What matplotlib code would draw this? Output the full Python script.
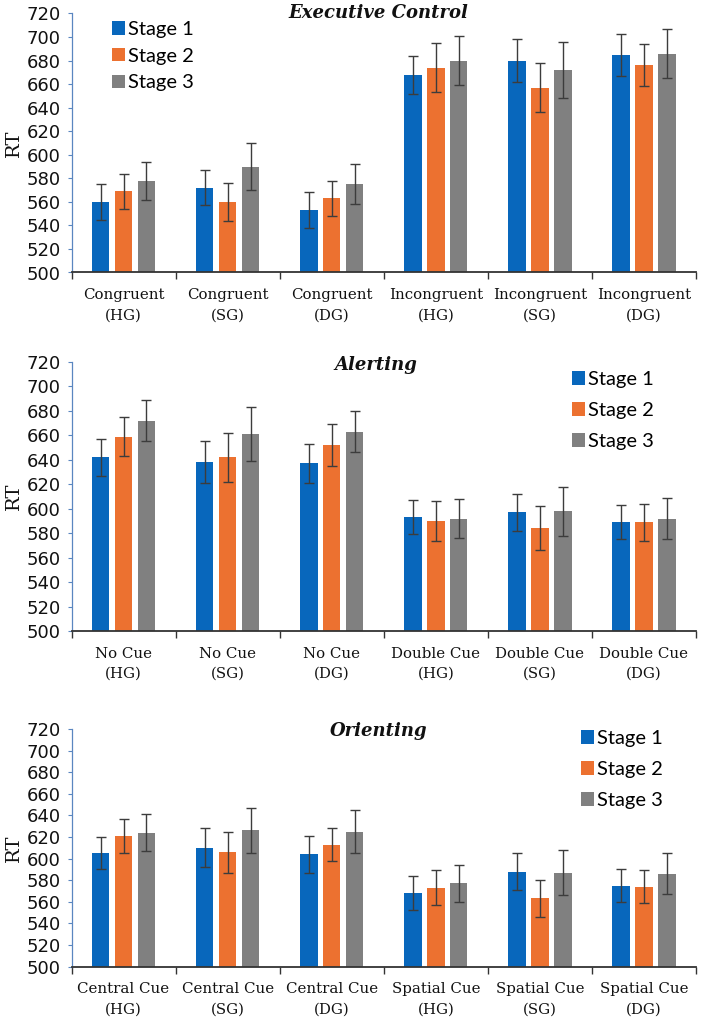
import matplotlib
matplotlib.use("Agg")
import matplotlib.pyplot as plt
import numpy as np

# ---------------- data ----------------
series_names = ["Stage 1", "Stage 2", "Stage 3"]

ec_categories = ["Congruent\n(HG)", "Congruent\n(SG)", "Congruent\n(DG)",
                 "Incongruent\n(HG)", "Incongruent\n(SG)", "Incongruent\n(DG)"]
ec_stage1 = [560, 572, 553, 668, 680, 685]
ec_stage2 = [569, 560, 563, 674, 657, 676]
ec_stage3 = [578, 590, 575, 680, 672, 686]
ec_err1 = [15, 15, 15, 16, 18, 18]
ec_err2 = [15, 16, 15, 21, 21, 18]
ec_err3 = [16, 20, 17, 21, 24, 21]

al_categories = ["No Cue\n(HG)", "No Cue\n(SG)", "No Cue\n(DG)",
                 "Double Cue\n(HG)", "Double Cue\n(SG)", "Double Cue\n(DG)"]
al_stage1 = [642, 638, 637, 593, 597, 589]
al_stage2 = [659, 642, 652, 590, 584, 589]
al_stage3 = [672, 661, 663, 592, 598, 592]
al_err1 = [15, 17, 16, 14, 15, 14]
al_err2 = [16, 20, 17, 16, 18, 15]
al_err3 = [17, 22, 17, 16, 20, 17]

or_categories = ["Central Cue\n(HG)", "Central Cue\n(SG)", "Central Cue\n(DG)",
                 "Spatial Cue\n(HG)", "Spatial Cue\n(SG)", "Spatial Cue\n(DG)"]
or_stage1 = [605, 610, 604, 568, 588, 575]
or_stage2 = [621, 606, 613, 573, 563, 574]
or_stage3 = [624, 626, 625, 577, 587, 586]
or_err1 = [15, 18, 17, 16, 17, 15]
or_err2 = [16, 19, 15, 16, 17, 15]
or_err3 = [17, 21, 20, 17, 21, 19]

titles = ["Executive Control", "Alerting", "Orienting"]
y_label = "RT"
y_ticks = list(range(500, 721, 20))

colors = ["#0867BC", "#EC7130", "#808080"]

# ---------------- layout ----------------
W, H = 705, 1021
fig = plt.figure(figsize=(W / 100, H / 100), dpi=100)

panels = [
    dict(cats=ec_categories, vals=[ec_stage1, ec_stage2, ec_stage3],
         errs=[ec_err1, ec_err2, ec_err3], title=titles[0],
         top=13.5, bottom=272.5, title_xy=(378, 13), leg_xy=(112, 21), lspace=0.48),
    dict(cats=al_categories, vals=[al_stage1, al_stage2, al_stage3],
         errs=[al_err1, al_err2, al_err3], title=titles[1],
         top=362, bottom=631, title_xy=(376, 365), leg_xy=(572, 371), lspace=0.70),
    dict(cats=or_categories, vals=[or_stage1, or_stage2, or_stage3],
         errs=[or_err1, or_err2, or_err3], title=titles[2],
         top=729, bottom=966.5, title_xy=(379, 731), leg_xy=(581, 730), lspace=0.70),
]

left_px, right_px = 71.5, 696
offsets = [-0.22, 0.0, 0.22]
bar_w = 0.168

for p in panels:
    ax = fig.add_axes([left_px / W, 1 - p["bottom"] / H,
                       (right_px - left_px) / W, (p["bottom"] - p["top"]) / H])
    x = np.arange(len(p["cats"]))
    for i in range(3):
        ax.bar(x + offsets[i], p["vals"][i], width=bar_w, color=colors[i],
               label=series_names[i], zorder=2)
        ax.errorbar(x + offsets[i], p["vals"][i], yerr=p["errs"][i], fmt="none",
                    ecolor="#3C3C3C", elinewidth=1.0, capsize=3.4, capthick=1.0,
                    zorder=3)
    ax.set_xlim(-0.5, len(p["cats"]) - 0.5)
    ax.set_ylim(500, 720)
    ax.set_yticks(y_ticks)
    ax.set_yticklabels([str(t) for t in y_ticks], fontfamily="DejaVu Sans",
                       fontsize=13, color="#111111")
    ax.tick_params(axis="y", direction="out", length=3, width=0.8,
                   color="#5A86C0", pad=5)
    ax.set_xticks(np.arange(-0.5, len(p["cats"]) + 0.5, 1.0))
    ax.set_xticklabels([])
    ax.tick_params(axis="x", which="major", direction="out", length=5,
                   width=1.0, color="#333333")
    ax.set_xticks(x, minor=True)
    ax.set_xticklabels(p["cats"], minor=True, fontfamily="DejaVu Serif",
                       fontsize=10.8, color="#111111", linespacing=1.55)
    ax.tick_params(axis="x", which="minor", length=0, pad=11.5)
    for s in ["top", "right"]:
        ax.spines[s].set_visible(False)
    ax.spines["left"].set_color("#5A86C0")
    ax.spines["left"].set_linewidth(0.9)
    ax.spines["bottom"].set_color("#333333")
    ax.spines["bottom"].set_linewidth(1.3)
    ax.spines["bottom"].set_zorder(4)

    lx, ly = p["leg_xy"]
    ax.legend(loc="upper left", bbox_to_anchor=(lx / W, 1 - ly / H),
              bbox_transform=fig.transFigure, frameon=False, borderpad=0,
              borderaxespad=0,
              handlelength=0.65, handleheight=0.65, handletextpad=0.12,
              labelspacing=p["lspace"],
              prop=dict(family="Lato", size=14.5))

    tx, ty = p["title_xy"]
    fig.text(tx / W, 1 - ty / H, p["title"], ha="center", va="center",
             fontfamily="DejaVu Serif", fontweight="bold", fontstyle="italic",
             fontsize=13, color="#111111")
    fig.text(13.5 / W, 1 - (p["top"] + p["bottom"]) / 2 / H, y_label,
             rotation=90, ha="center", va="center", fontfamily="DejaVu Serif",
             fontsize=14, color="#111111")

fig.savefig("out.png", dpi=100)
